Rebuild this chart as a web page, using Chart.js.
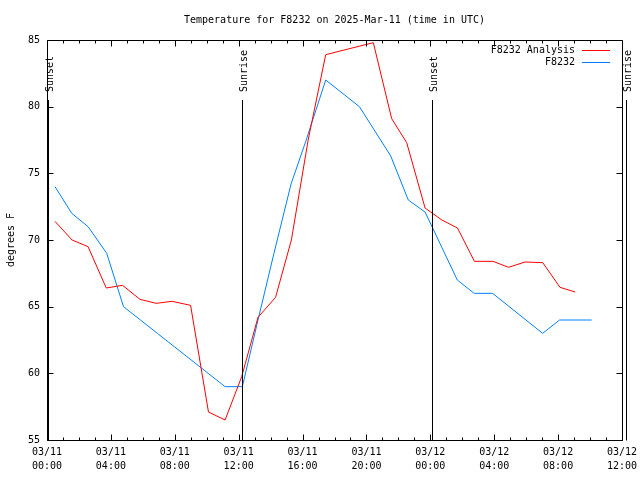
<!DOCTYPE html>
<html><head><meta charset="utf-8">
<script src="https://cdn.jsdelivr.net/npm/chart.js@4.4.1/dist/chart.umd.min.js"></script>
<style>html,body{margin:0;padding:0;background:#fff}</style>
</head><body>
<canvas id="c" width="640" height="480"></canvas>
<script>
const FONT = "'DejaVu Sans Mono', monospace";
const titleText = 'Temperature for F8232 on 2025-Mar-11 (time in UTC)';
const yTitle = 'degrees F';

// x values are hours since 03/11 00:00 UTC
const xTickHours = [0, 4, 8, 12, 16, 20, 24, 28, 32, 36];
const xTickLabels = [
  ['03/11','00:00'], ['03/11','04:00'], ['03/11','08:00'], ['03/11','12:00'],
  ['03/11','16:00'], ['03/11','20:00'], ['03/12','00:00'], ['03/12','04:00'],
  ['03/12','08:00'], ['03/12','12:00']
];

const analysisName = 'F8232 Analysis';
const analysisHours = [0.50, 1.57, 2.57, 3.71, 4.73, 5.82, 6.83, 7.83, 8.99, 10.11, 11.15, 12.19, 13.21, 14.31, 15.30, 16.35, 17.45, 20.43, 21.58, 22.52, 23.67, 24.72, 25.70, 26.76, 27.93, 28.89, 29.93, 31.04, 32.12, 33.06];
const analysisTemps = [71.4, 70.0, 69.5, 66.4, 66.6, 65.55, 65.25, 65.4, 65.1, 57.1, 56.5, 59.75, 64.2, 65.7, 70.0, 77.5, 83.9, 84.8, 79.1, 77.3, 72.4, 71.5, 70.9, 68.4, 68.4, 67.95, 68.35, 68.3, 66.45, 66.1];

const obsName = 'F8232';
const obsHours = [0.50, 1.55, 2.57, 3.74, 4.79, 5.85, 6.91, 7.97, 9.03, 10.09, 11.15, 12.23, 13.21, 14.21, 15.28, 16.20, 17.45, 19.56, 21.52, 22.62, 23.67, 25.69, 26.74, 27.90, 31.03, 32.09, 34.10];
const obsTemps = [74, 72, 71, 69, 65, 64, 63, 62, 61, 60, 59, 59, 64, 69, 74.2, 77.4, 82, 80, 76.3, 73, 72.1, 67, 66, 66, 63, 64, 64];

const eventHours = [0.08, 12.22, 24.09, 36.25];
const eventLabels = ['Sunset', 'Sunrise', 'Sunset', 'Sunrise'];

const RED = '#ff0000';
const BLUE = '#0080ff';

const toPoints = (xs, ys) => xs.map((x, i) => ({x, y: ys[i]}));

const decor = {
  id: 'decor',
  afterDraw(chart) {
    const ctx = chart.ctx;
    const a = chart.chartArea;
    const xs = chart.scales.x, ys = chart.scales.y;
    const L = Math.round(a.left) + 0.5, R = Math.round(a.right) + 0.5;
    const T = Math.round(a.top) + 0.5, B = Math.round(a.bottom) + 0.5;
    ctx.save();
    ctx.strokeStyle = '#000';
    ctx.lineWidth = 1;
    ctx.beginPath();
    ctx.rect(L, T, R - L, B - T);
    for (let h = 0; h <= 36; h++) {
      const px = Math.round(xs.getPixelForValue(h)) + 0.5;
      const len = (h % 4 === 0) ? 6 : 3;
      ctx.moveTo(px, B); ctx.lineTo(px, B - len);
      ctx.moveTo(px, T); ctx.lineTo(px, T + len);
    }
    ys.ticks.forEach(t => {
      const py = Math.round(ys.getPixelForValue(t.value)) + 0.5;
      ctx.moveTo(L, py); ctx.lineTo(L + 6, py);
      ctx.moveTo(R, py); ctx.lineTo(R - 6, py);
    });
    ctx.stroke();

    const lineTop = a.top + 0.15 * (a.bottom - a.top);
    ctx.font = '10px ' + FONT;
    ctx.fillStyle = '#000';
    eventHours.forEach((h, i) => {
      const px = Math.round(xs.getPixelForValue(h)) + 0.5;
      ctx.beginPath();
      ctx.moveTo(px, lineTop); ctx.lineTo(px, B);
      ctx.stroke();
      ctx.save();
      ctx.translate(px + 1.5, lineTop - 8);
      ctx.rotate(-Math.PI / 2);
      ctx.textAlign = 'left';
      ctx.textBaseline = 'middle';
      ctx.fillText(eventLabels[i], 0, 0);
      ctx.restore();
    });

    const items = [[analysisName, RED], [obsName, BLUE]];
    ctx.textAlign = 'right';
    ctx.textBaseline = 'middle';
    items.forEach((it, i) => {
      const y = a.top + 10 + i * 12;
      ctx.fillStyle = '#000';
      ctx.fillText(it[0], a.right - 47, y);
      ctx.strokeStyle = it[1];
      ctx.beginPath();
      ctx.moveTo(a.right - 40, Math.round(y) + 0.5);
      ctx.lineTo(a.right - 12, Math.round(y) + 0.5);
      ctx.stroke();
    });
    ctx.restore();
  }
};

new Chart(document.getElementById('c'), {
  type: 'line',
  data: {
    datasets: [
      { label: analysisName, data: toPoints(analysisHours, analysisTemps), borderColor: RED, backgroundColor: RED, borderWidth: 1, pointRadius: 0, tension: 0, fill: false },
      { label: obsName, data: toPoints(obsHours, obsTemps), borderColor: BLUE, backgroundColor: BLUE, borderWidth: 1, pointRadius: 0, tension: 0, fill: false }
    ]
  },
  options: {
    responsive: false,
    animation: false,
    devicePixelRatio: 1,
    layout: { padding: { left: 0, right: 18, top: 0, bottom: 0 } },
    plugins: {
      legend: { display: false },
      tooltip: { enabled: false },
      title: {
        display: true, text: titleText, fullSize: false, color: '#000',
        font: { family: FONT, size: 10, weight: 'normal', lineHeight: 1.2 },
        padding: { top: 14, bottom: 14 }
      }
    },
    scales: {
      x: {
        type: 'linear', min: 0, max: 36,
        grid: { display: false, drawTicks: false }, border: { display: false },
        afterFit(s) { s.height = 40; s.paddingLeft = 0; s.paddingRight = 0; },
        afterBuildTicks(s) { s.ticks = xTickHours.map(v => ({ value: v })); },
        ticks: {
          autoSkip: false, maxRotation: 0, minRotation: 0, padding: 6, color: '#000',
          font: { family: FONT, size: 10, lineHeight: 1.35 },
          callback: (v) => xTickLabels[xTickHours.indexOf(v)]
        }
      },
      y: {
        type: 'linear', min: 55, max: 85,
        grid: { display: false, drawTicks: false }, border: { display: false },
        afterFit(s) { s.width = 47; },
        ticks: { stepSize: 5, padding: 7, color: '#000', font: { family: FONT, size: 10 } },
        title: { display: true, text: yTitle, color: '#000', padding: { top: 5, bottom: 0 }, font: { family: FONT, size: 10, lineHeight: 1.2 } }
      }
    }
  },
  plugins: [decor]
});
</script>
</body></html>
